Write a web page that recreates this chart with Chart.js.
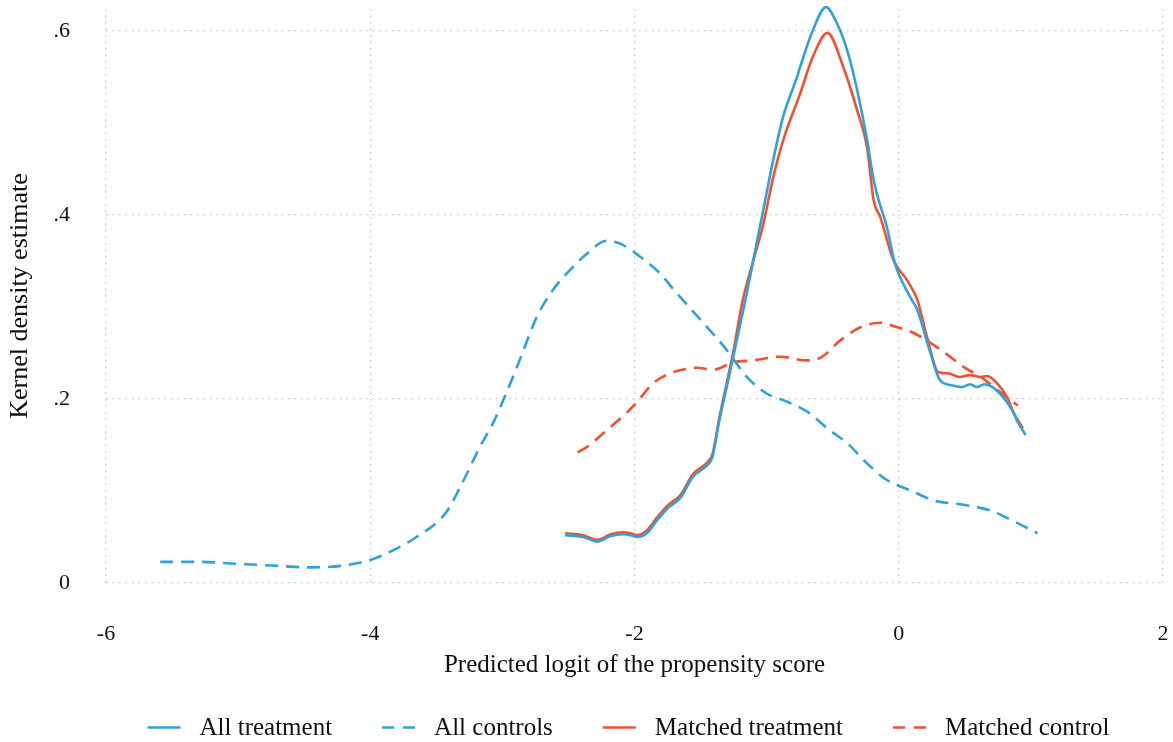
<!DOCTYPE html>
<html>
<head>
<meta charset="utf-8">
<script src="https://cdn.jsdelivr.net/npm/chart.js@4"></script>
<style>
  html, body { margin: 0; padding: 0; background: #fff; }
  #wrap { width: 1173px; height: 742px; }
</style>
</head>
<body>
<div id="wrap"><canvas id="kd" width="1173" height="742"></canvas></div>
<script>
const xTicks = [-6, -4, -2, 0, 2];
const yTicks = [0, 0.2, 0.4, 0.6];

const allTreatX = [-2.525, -2.39, -2.28, -2.18, -2.09, -2.03, -1.98, -1.90, -1.83, -1.75, -1.65, -1.56, -1.45, -1.41, -1.36, -1.29, -1.22, -1.15, -1.09, -1.03, -0.95, -0.875, -0.77, -0.746, -0.65, -0.55, -0.47, -0.39, -0.315, -0.24, -0.19, -0.16, -0.09, -0.03, 0.086, 0.14, 0.24, 0.31, 0.40, 0.48, 0.54, 0.59, 0.65, 0.71, 0.79, 0.87, 0.90, 0.96];
const allTreatY = [0.052, 0.050, 0.045, 0.051, 0.053, 0.052, 0.050, 0.055, 0.068, 0.081, 0.093, 0.115, 0.128, 0.137, 0.175, 0.221, 0.268, 0.315, 0.359, 0.402, 0.460, 0.507, 0.550, 0.561, 0.601, 0.626, 0.609, 0.579, 0.536, 0.482, 0.438, 0.420, 0.387, 0.348, 0.311, 0.297, 0.250, 0.221, 0.215, 0.213, 0.216, 0.213, 0.216, 0.213, 0.202, 0.185, 0.175, 0.161];

const allCtrlX = [-5.59, -5.30, -5.02, -4.75, -4.45, -4.20, -4.00, -3.85, -3.65, -3.43, -3.32, -3.17, -3.07, -2.96, -2.87, -2.74, -2.62, -2.49, -2.36, -2.21, -2.11, -1.96, -1.81, -1.68, -1.45, -1.30, -1.15, -1.00, -0.845, -0.69, -0.54, -0.39, -0.24, -0.09, 0.10, 0.26, 0.49, 0.69, 0.90, 1.05];
const allCtrlY = [0.023, 0.023, 0.021, 0.019, 0.017, 0.019, 0.025, 0.034, 0.050, 0.076, 0.104, 0.148, 0.174, 0.210, 0.242, 0.289, 0.318, 0.340, 0.358, 0.372, 0.369, 0.355, 0.337, 0.315, 0.278, 0.253, 0.224, 0.206, 0.197, 0.186, 0.168, 0.152, 0.130, 0.112, 0.100, 0.090, 0.085, 0.079, 0.065, 0.054];

const matTreatX = [-2.525, -2.39, -2.28, -2.18, -2.09, -2.03, -1.98, -1.90, -1.83, -1.75, -1.65, -1.56, -1.45, -1.41, -1.36, -1.25, -1.18, -1.10, -1.03, -0.95, -0.875, -0.746, -0.65, -0.54, -0.42, -0.315, -0.24, -0.19, -0.14, -0.04, 0.064, 0.14, 0.215, 0.30, 0.37, 0.46, 0.54, 0.62, 0.67, 0.745, 0.82, 0.87, 0.94];
const matTreatY = [0.054, 0.052, 0.047, 0.053, 0.055, 0.054, 0.052, 0.058, 0.071, 0.084, 0.096, 0.118, 0.131, 0.140, 0.178, 0.253, 0.308, 0.351, 0.387, 0.441, 0.481, 0.532, 0.572, 0.598, 0.561, 0.514, 0.474, 0.416, 0.398, 0.351, 0.329, 0.308, 0.267, 0.229, 0.228, 0.224, 0.226, 0.224, 0.225, 0.217, 0.202, 0.185, 0.168];

const matCtrlX = [-2.43, -2.36, -2.21, -2.06, -1.98, -1.86, -1.73, -1.60, -1.53, -1.40, -1.25, -1.10, -0.90, -0.69, -0.59, -0.44, -0.29, -0.14, -0.01, 0.11, 0.24, 0.37, 0.49, 0.62, 0.745, 0.90];
const matCtrlY = [0.142, 0.148, 0.166, 0.185, 0.197, 0.217, 0.228, 0.233, 0.234, 0.232, 0.240, 0.242, 0.246, 0.242, 0.245, 0.264, 0.278, 0.283, 0.278, 0.272, 0.261, 0.248, 0.235, 0.224, 0.210, 0.193];

const seriesNames = ['All treatment', 'All controls', 'Matched treatment', 'Matched control'];

const BLUE = '#2da2dc';
const RED = '#f4502e';
const FONT = 'Liberation Serif';
const GRID = '#c4c4c4';

const pts = (xs, ys) => xs.map((x, i) => ({ x, y: ys[i] }));

const line = (label, data, color, dashed) => ({
    label,
    data,
    borderColor: color,
    backgroundColor: color,
    borderWidth: 2.6,
    borderDash: dashed ? [13, 8] : [],
    pointRadius: 0,
    cubicInterpolationMode: 'monotone',
    fill: false,
});

// one row legend under the axis title, laid out like the original (sample, gap, label)
const rowLegend = {
    id: 'rowLegend',
    afterDraw(chart) {
        const ctx = chart.ctx;
        const sample = 33, gap = 19, spacing = 50;
        ctx.save();
        ctx.font = `25px "${FONT}"`;
        const items = chart.data.datasets.map(ds => ({ ds, w: ctx.measureText(ds.label).width }));
        const total = items.reduce((t, it) => t + sample + gap + it.w, 0) + spacing * (items.length - 1);
        const { left, right } = chart.chartArea;
        let x = (left + right) / 2 - 6 - total / 2;
        const lineY = 727.5, textY = 735;
        items.forEach(({ ds, w }) => {
            ctx.strokeStyle = ds.borderColor;
            ctx.lineWidth = ds.borderWidth;
            ctx.setLineDash(ds.borderDash.length ? [12, 9] : []);
            ctx.beginPath();
            ctx.moveTo(x, lineY);
            ctx.lineTo(x + sample, lineY);
            ctx.stroke();
            ctx.setLineDash([]);
            ctx.fillStyle = '#111';
            ctx.textBaseline = 'alphabetic';
            ctx.textAlign = 'left';
            ctx.fillText(ds.label, x + sample + gap, textY);
            x += sample + gap + w + spacing;
        });
        ctx.restore();
    }
};

new Chart(document.getElementById('kd').getContext('2d'), {
    type: 'line',
    data: {
        datasets: [
            line(seriesNames[0], pts(allTreatX, allTreatY), BLUE, false),
            line(seriesNames[1], pts(allCtrlX, allCtrlY), BLUE, true),
            line(seriesNames[2], pts(matTreatX, matTreatY), RED, false),
            line(seriesNames[3], pts(matCtrlX, matCtrlY), RED, true),
        ]
    },
    plugins: [rowLegend],
    options: {
        responsive: false,
        animation: false,
        clip: false,
        layout: { padding: { top: 9, right: 10, left: 0, bottom: 59 } },
        scales: {
            x: {
                type: 'linear',
                min: -6,
                max: 2,
                afterBuildTicks: (s) => { s.ticks = xTicks.map(v => ({ value: v })); },
                afterFit: (s) => { s.height = 100; s.paddingLeft = 0; s.paddingRight = 0; },
                grid: { color: GRID, lineWidth: 1.3, drawTicks: false },
                border: { display: false, dash: [1.5, 5] },
                ticks: {
                    color: '#111',
                    padding: 38,
                    font: { family: FONT, size: 22 },
                },
                title: {
                    display: true,
                    text: 'Predicted logit of the propensity score',
                    color: '#111',
                    font: { family: FONT, size: 25 },
                    padding: { top: 0, bottom: 3 },
                }
            },
            y: {
                type: 'linear',
                min: 0,
                max: 0.624,
                afterBuildTicks: (s) => { s.ticks = yTicks.map(v => ({ value: v })); },
                afterFit: (s) => { s.width = 106; s.paddingTop = 0; s.paddingBottom = 0; },
                grid: { color: GRID, lineWidth: 1.3, drawTicks: false },
                border: { display: false, dash: [1.5, 5] },
                ticks: {
                    color: '#111',
                    padding: 36,
                    font: { family: FONT, size: 22 },
                    callback: (v) => v === 0 ? '0' : v.toFixed(1).replace(/^0/, ''),
                },
                title: {
                    display: true,
                    text: 'Kernel density estimate',
                    color: '#111',
                    font: { family: FONT, size: 26 },
                    padding: { top: 5, bottom: 0 },
                }
            }
        },
        plugins: {
            legend: { display: false },
            tooltip: { enabled: false }
        }
    }
});
</script>
</body>
</html>
